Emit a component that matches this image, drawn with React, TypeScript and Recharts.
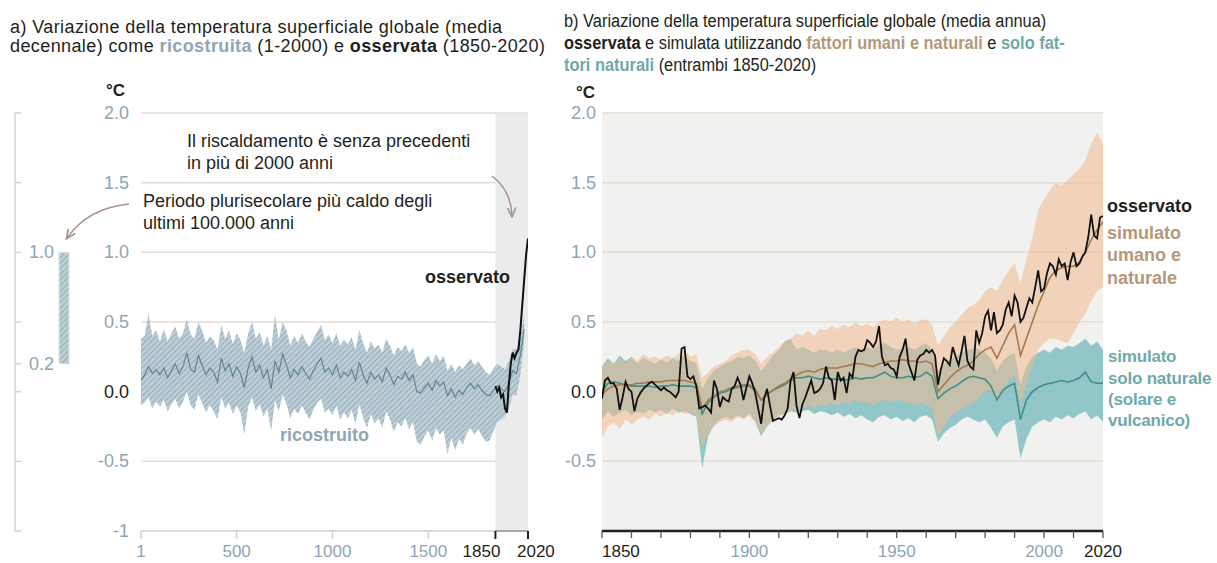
import React from 'react'
import {
  ComposedChart,
  BarChart,
  Bar,
  Area,
  Line,
  XAxis,
  YAxis,
  CartesianGrid,
  ReferenceArea,
  ReferenceLine,
} from 'recharts'

const FONT = '"Liberation Sans", Arial, Helvetica, sans-serif'
const INK = '#231f20'
const BLUEGREY = '#8ea5b5'
const TAN = '#b5987a'
const TEAL = '#6fa9a8'
const GRID = '#e4dcd8'

const Y_TICKS = [-1, -0.5, 0, 0.5, 1, 1.5, 2]

// ---- panel a: reconstruction (20-year steps, year 1 .. 2000) ----
const reconYears = Array.from({ length: 101 }, (_, i) => (i === 0 ? 1 : i * 20))
const reconMean = [
  0.08, 0.12, 0.18, 0.13, 0.16, 0.12, 0.17, 0.1, 0.15, 0.2,
  0.13, 0.18, 0.28, 0.16, 0.14, 0.26, 0.19, 0.12, 0.17, 0.14,
  0.07, 0.24, 0.15, 0.2, 0.11, 0.18, 0.13, 0.03, 0.17, 0.25,
  0.14, 0.19, 0.1, 0.16, 0.02, 0.22, 0.14, 0.27, 0.19, 0.1,
  0.16, 0.12, 0.18, 0.13, 0.09, 0.15, 0.2, 0.24, 0.14, 0.17,
  0.12, 0.19, 0.1, 0.14, 0.11, 0.16, 0.08, 0.21, 0.12, 0.06,
  0.14, 0.09, 0.12, 0.07, 0.17, 0.12, 0.05, 0.11, 0.09, 0.14,
  0.08, 0.12, 0.0, -0.01, 0.03, 0.06, 0.01, 0.08, 0.04, 0.07,
  -0.03, 0.02, -0.04, 0.01, -0.02, 0.03, 0.06, 0.02, 0.05, 0.01,
  -0.02, -0.03, 0.01, 0.04, 0.02, 0.0, 0.06, 0.15, 0.13, 0.26,
  0.45,
]
const reconHigh = [
  0.38, 0.4, 0.56, 0.4, 0.44, 0.36, 0.45, 0.36, 0.42, 0.47,
  0.38, 0.42, 0.52, 0.41, 0.38, 0.5, 0.44, 0.35, 0.4, 0.37,
  0.3, 0.48, 0.38, 0.44, 0.34, 0.42, 0.37, 0.28, 0.42, 0.5,
  0.38, 0.43, 0.33, 0.4, 0.3, 0.55, 0.37, 0.5, 0.44, 0.33,
  0.4, 0.35, 0.42, 0.36, 0.32, 0.38, 0.43, 0.48, 0.37, 0.41,
  0.35, 0.42, 0.33, 0.37, 0.34, 0.39, 0.3, 0.44, 0.35, 0.28,
  0.36, 0.31, 0.34, 0.28, 0.38, 0.33, 0.26, 0.32, 0.29, 0.34,
  0.28, 0.32, 0.2, 0.18, 0.23, 0.26, 0.2, 0.27, 0.22, 0.26,
  0.15, 0.2, 0.14, 0.19, 0.16, 0.2, 0.24, 0.19, 0.22, 0.18,
  0.14, 0.12, 0.17, 0.2, 0.18, 0.16, 0.22, 0.31, 0.3, 0.4,
  0.55,
]
const reconLow = [
  -0.1, -0.08, -0.04, -0.12, -0.07, -0.11, -0.06, -0.14, -0.09, -0.05,
  -0.12, -0.07, 0.0, -0.1, -0.13, -0.02, -0.08, -0.15, -0.1, -0.14,
  -0.2, -0.04, -0.12, -0.08, -0.16, -0.1, -0.15, -0.31, -0.11, -0.04,
  -0.14, -0.09, -0.18, -0.12, -0.28, -0.06, -0.14, -0.02, -0.09, -0.19,
  -0.12, -0.16, -0.1, -0.15, -0.2, -0.13, -0.08, -0.05, -0.15, -0.12,
  -0.17, -0.1, -0.2, -0.15, -0.19, -0.13, -0.23, -0.09, -0.19, -0.26,
  -0.16, -0.23, -0.19, -0.26, -0.14, -0.2, -0.29, -0.22, -0.25, -0.19,
  -0.27, -0.22, -0.36, -0.38, -0.32, -0.28, -0.35, -0.26, -0.31, -0.28,
  -0.45, -0.33, -0.42, -0.34, -0.38, -0.3, -0.26, -0.31, -0.27, -0.32,
  -0.36, -0.35, -0.28, -0.22, -0.2, -0.18, -0.12, -0.02, -0.03, 0.12,
  0.35,
]

// panel a: observed, decadal
const obsDecYears = [1850, 1860, 1870, 1880, 1890, 1900, 1910, 1920, 1930, 1940, 1950, 1960, 1970, 1980, 1990, 2000, 2010, 2020]
const obsDec = [0.04, 0.0, 0.03, -0.04, -0.02, -0.12, -0.15, 0.05, 0.2, 0.28, 0.24, 0.28, 0.3, 0.44, 0.62, 0.8, 0.98, 1.1]

// warmest multi-century period range (left mini axis)
const warmRange = [0.2, 1.0]

// ---- panel b: annual observed 1850..2020 ----
const obsYears = Array.from({ length: 171 }, (_, i) => 1850 + i)
const obsAnnual = [
  -0.05, 0.08, 0.1, 0.06, 0.06, 0.02, -0.13, -0.04, 0.07, 0.02,
  0.0, -0.14, -0.05, -0.01, 0.02, 0.04, 0.06, 0.07, 0.05, 0.03,
  0.01, 0.03, 0.01, 0.0, -0.02, -0.04, 0.0, 0.31, 0.32, 0.11,
  0.09, 0.11, 0.04, -0.12, -0.11, -0.1, -0.12, -0.15, 0.08, 0.02,
  -0.11, -0.04, -0.06, -0.07, 0.02, 0.04, 0.1, 0.05, -0.06, 0.03,
  0.11, 0.06, -0.01, -0.12, -0.23, -0.05, 0.02, -0.1, -0.21, -0.2,
  -0.19, -0.2, -0.17, -0.12, 0.08, 0.14, -0.1, -0.19, -0.09, -0.04,
  0.02, 0.08, -0.01, 0.0, 0.02, 0.06, 0.18, 0.1, 0.08, -0.06,
  0.14, 0.08, 0.1, -0.01, 0.13, 0.1, 0.25, 0.3, 0.29, 0.3,
  0.37, 0.35, 0.32, 0.36, 0.47, 0.25, 0.19, 0.2, 0.17, 0.16,
  0.11, 0.25, 0.3, 0.38, 0.2, 0.14, 0.08, 0.23, 0.26, 0.27,
  0.3, 0.28, 0.3, 0.26, 0.05, 0.16, 0.24, 0.22, 0.19, 0.32,
  0.25, 0.19, 0.29, 0.4, 0.22, 0.18, 0.16, 0.44, 0.35, 0.42,
  0.54, 0.58, 0.44, 0.57, 0.42, 0.44, 0.48, 0.59, 0.64, 0.54,
  0.69, 0.64, 0.5, 0.53, 0.6, 0.67, 0.64, 0.75, 0.87, 0.72,
  0.74, 0.85, 0.92, 0.9, 0.84, 0.95, 0.9, 0.92, 0.8, 0.93,
  1.0, 0.9, 0.92, 0.97, 1.0, 1.11, 1.27, 1.12, 1.1, 1.25,
  1.26,
]

// panel b: simulations, every 2 years 1850..2020
const simYears = Array.from({ length: 86 }, (_, i) => 1850 + i * 2)
const humanMean = [
  -0.02, 0.02, 0.04, 0.05, 0.05, 0.05, 0.06, 0.06, 0.07, 0.07,
  0.07, 0.08, 0.08, 0.08, 0.08, 0.07, 0.06, -0.12, -0.06, -0.03,
  0.0, 0.01, 0.03, 0.04, 0.05, 0.05, 0.02, -0.06, -0.02, 0.01,
  0.04, 0.06, 0.09, 0.12, 0.14, 0.15, 0.14, 0.16, 0.17, 0.17,
  0.17, 0.18, 0.19, 0.2, 0.2, 0.19, 0.18, 0.2, 0.21, 0.22,
  0.22, 0.23, 0.22, 0.22, 0.21, 0.22, 0.2, 0.0, 0.05, 0.1,
  0.14, 0.17, 0.19, 0.22, 0.27, 0.3, 0.32, 0.24, 0.33, 0.42,
  0.48, 0.26, 0.38, 0.5, 0.62, 0.72, 0.82, 0.87, 0.89, 0.9,
  0.9, 0.93, 1.0, 1.09, 1.16, 1.22,
]
const humanHigh = [
  0.18, 0.22, 0.2, 0.24, 0.2, 0.25, 0.22, 0.27, 0.24, 0.25,
  0.23, 0.26, 0.24, 0.27, 0.3, 0.25, 0.27, 0.1, 0.14, 0.18,
  0.2, 0.22, 0.26, 0.28, 0.3, 0.3, 0.27, 0.2, 0.25, 0.28,
  0.32, 0.36, 0.38, 0.42, 0.4, 0.44, 0.4, 0.45, 0.44, 0.47,
  0.45, 0.48, 0.46, 0.5, 0.47, 0.49, 0.46, 0.5, 0.52, 0.5,
  0.53, 0.5, 0.52, 0.49, 0.51, 0.52, 0.48, 0.33, 0.4, 0.46,
  0.5, 0.55, 0.6, 0.62, 0.66, 0.72, 0.75, 0.72, 0.8, 0.87,
  0.92, 0.78, 0.95, 1.1, 1.3, 1.38, 1.45, 1.5, 1.48, 1.52,
  1.56, 1.6, 1.66, 1.78, 1.86, 1.78,
]
const humanLow = [
  -0.33, -0.25, -0.22, -0.27, -0.2, -0.24, -0.2, -0.18, -0.2, -0.16,
  -0.18, -0.15, -0.17, -0.14, -0.16, -0.15, -0.17, -0.4, -0.3, -0.25,
  -0.22, -0.2, -0.22, -0.18, -0.2, -0.17, -0.22, -0.3, -0.24, -0.21,
  -0.18, -0.16, -0.14, -0.12, -0.13, -0.1, -0.12, -0.09, -0.1, -0.08,
  -0.1, -0.07, -0.09, -0.06, -0.08, -0.07, -0.1, -0.07, -0.06, -0.08,
  -0.06, -0.07, -0.08, -0.1, -0.08, -0.09, -0.12, -0.32, -0.25, -0.18,
  -0.15, -0.12, -0.1, -0.08, -0.04, 0.0, 0.02, -0.08, 0.02, 0.08,
  0.12, -0.1, 0.05, 0.18, 0.3, 0.35, 0.38, 0.38, 0.36, 0.35,
  0.42, 0.5, 0.56, 0.65, 0.72, 0.75,
]
const naturalMean = [
  0.0, 0.06, 0.07, 0.06, 0.05, 0.04, 0.04, 0.04, 0.04, 0.03,
  0.04, 0.04, 0.05, 0.04, 0.04, 0.04, 0.03, -0.16, -0.08, -0.04,
  -0.01, 0.0, 0.02, 0.03, 0.04, 0.04, 0.01, -0.06, -0.02, 0.01,
  0.03, 0.05, 0.08, 0.1, 0.1, 0.11, 0.1, 0.09, 0.1, 0.09,
  0.09, 0.08, 0.09, 0.1, 0.09, 0.1, 0.1, 0.12, 0.14, 0.11,
  0.1, 0.1, 0.11, 0.1, 0.11, 0.14, 0.11, -0.05, -0.01, 0.02,
  0.04, 0.07, 0.1, 0.11, 0.1, 0.09, 0.04, -0.06, 0.01, 0.04,
  0.06, -0.2, -0.06, 0.0, 0.03, 0.05, 0.06, 0.07, 0.08, 0.07,
  0.08, 0.1, 0.14, 0.07, 0.06, 0.06,
]
const naturalHigh = [
  0.18, 0.24, 0.2, 0.26, 0.22, 0.25, 0.2, 0.24, 0.22, 0.2,
  0.23, 0.21, 0.24, 0.22, 0.26, 0.22, 0.2, 0.02, 0.1, 0.15,
  0.18, 0.2, 0.22, 0.25, 0.24, 0.26, 0.22, 0.15, 0.2, 0.26,
  0.3, 0.36, 0.38, 0.3, 0.32, 0.3, 0.28, 0.3, 0.3, 0.28,
  0.3, 0.28, 0.3, 0.32, 0.3, 0.32, 0.3, 0.34, 0.35, 0.32,
  0.3, 0.31, 0.32, 0.3, 0.33, 0.35, 0.3, 0.15, 0.2, 0.23,
  0.25, 0.28, 0.3, 0.31, 0.3, 0.28, 0.24, 0.15, 0.22, 0.26,
  0.28, 0.05, 0.18, 0.25, 0.28, 0.3, 0.28, 0.32, 0.3, 0.33,
  0.32, 0.35, 0.38, 0.33, 0.36, 0.3,
]
const naturalLow = [
  -0.2, -0.14, -0.18, -0.15, -0.13, -0.17, -0.14, -0.16, -0.13, -0.15,
  -0.13, -0.16, -0.12, -0.15, -0.14, -0.16, -0.18, -0.55, -0.32, -0.24,
  -0.2, -0.18, -0.2, -0.17, -0.19, -0.16, -0.22, -0.32, -0.25, -0.2,
  -0.17, -0.16, -0.14, -0.15, -0.14, -0.13, -0.16, -0.14, -0.15, -0.17,
  -0.15, -0.18, -0.16, -0.19, -0.17, -0.2, -0.22, -0.18, -0.17, -0.2,
  -0.18, -0.21, -0.19, -0.22, -0.18, -0.17, -0.2, -0.36, -0.3, -0.26,
  -0.24, -0.2, -0.18, -0.2, -0.22, -0.2, -0.26, -0.33, -0.25, -0.22,
  -0.2, -0.48, -0.34, -0.25, -0.22, -0.2, -0.22, -0.18, -0.2, -0.17,
  -0.19, -0.16, -0.14, -0.2, -0.17, -0.22,
]

const B_X_TICKS = Array.from({ length: 18 }, (_, i) => 1850 + i * 10)
const B_X_LABELS = [1850, 1900, 1950, 2000, 2020]

const reconRows = reconYears.map((year, i) => ({
  year,
  mean: reconMean[i],
  band: [reconLow[i], reconHigh[i]],
}))
const obsDecRows = obsDecYears.map((year, i) => ({ year, value: obsDec[i] }))
const obsRows = obsYears.map((year, i) => ({ year, value: obsAnnual[i] }))
const simRows = simYears.map((year, i) => ({
  year,
  human: humanMean[i],
  humanBand: [humanLow[i], humanHigh[i]],
  natural: naturalMean[i],
  naturalBand: [naturalLow[i], naturalHigh[i]],
}))

function fmt(v: number) {
  return v === -1 ? '-1' : v.toFixed(1)
}

function ValueTick(props: any) {
  const { x, y, payload, skipMin } = props
  const v = payload.value
  if (skipMin && v === -1) return null
  return (
    <text x={x} y={y} dy={6} textAnchor="end" fontSize={18} fontFamily={FONT} fill={v === 0 ? INK : BLUEGREY}>
      {fmt(v)}
    </text>
  )
}

function MiniTick(props: any) {
  const { x, y, payload } = props
  const v = payload.value
  const label = v === 1 || v === 0.2
  return (
    <g>
      <line x1={x} x2={x + 6} y1={y} y2={y} stroke="#d9d2ce" strokeWidth={1.5} />
      {label && (
        <text x={x + 14} y={y} dy={6} fontSize={18} fontFamily={FONT} fill={BLUEGREY}>
          {v.toFixed(1)}
        </text>
      )}
    </g>
  )
}

function YearTickA(props: any) {
  const { x, y, payload } = props
  const v = payload.value
  const dark = v >= 1850
  let anchor = 'middle'
  let tx = x
  if (v === 1850) {
    anchor = 'end'
    tx = x + 5
  }
  if (v === 2020) {
    anchor = 'start'
    tx = x - 11
  }
  return (
    <g>
      <line x1={x} x2={x} y1={y} y2={y + 8} stroke={dark ? INK : '#d6cfcb'} strokeWidth={dark ? 2 : 1.5} />
      <text x={tx} y={y + 26} textAnchor={anchor} fontSize={17} fontFamily={FONT} fill={dark ? INK : BLUEGREY}>
        {v}
      </text>
    </g>
  )
}

function YearTickB(props: any) {
  const { x, y, payload } = props
  const v = payload.value
  const dark = v === 1850 || v === 2020
  return (
    <g>
      <line x1={x} x2={x} y1={y} y2={y + 7} stroke="#555" strokeWidth={1.3} />
      {B_X_LABELS.includes(v) && (
        <text x={x} y={y + 26} textAnchor={v === 1850 ? 'start' : 'middle'} fontSize={17} fontFamily={FONT} fill={dark ? INK : BLUEGREY}>
          {v}
        </text>
      )}
    </g>
  )
}

function Txt({ x, y, size = 18, color = INK, bold = false, children, style }: any) {
  return (
    <div
      style={{
        position: 'absolute',
        left: x,
        top: y - size * 0.54,
        fontSize: size,
        lineHeight: 1,
        color,
        fontWeight: bold ? 700 : 400,
        whiteSpace: 'nowrap',
        fontFamily: FONT,
        ...style,
      }}
    >
      {children}
    </div>
  )
}

export default function App() {
  return (
    <div style={{ position: 'absolute', left: 0, top: 0, width: 1217, height: 563, background: '#fff', overflow: 'hidden' }}>
      <svg width={0} height={0} style={{ position: 'absolute' }}>
        <defs>
          <pattern id="hatch" width={4} height={4} patternUnits="userSpaceOnUse" patternTransform="rotate(45)">
            <rect width={4} height={4} fill="#bccdd6" />
            <line x1={0} y1={0} x2={0} y2={4} stroke="#8ea7b5" strokeWidth={1.6} />
          </pattern>
          <marker id="arrowHead" viewBox="0 0 10 10" refX={8} refY={5} markerWidth={7} markerHeight={7} orient="auto-start-reverse">
            <path d="M0,1 L9,5 L0,9" fill="none" stroke="#a8958e" strokeWidth={1.6} />
          </marker>
        </defs>
      </svg>

      {/* mini axis with the warm-period bar */}
      <div style={{ position: 'absolute', left: 0, top: 0 }}>
        <BarChart width={120} height={563} data={[{ k: 'p', range: warmRange }]} margin={{ top: 113, right: 7, bottom: 32, left: 14 }}>
          <XAxis dataKey="k" hide />
          <YAxis
            type="number"
            domain={[-1, 2]}
            ticks={[-1, -0.5, 0, 0.2, 0.5, 1, 1.5, 2]}
            interval={0}
            width={1}
            tickSize={0}
            tickMargin={0}
            tickLine={false}
            axisLine={{ stroke: '#d9d2ce', strokeWidth: 1.5 }}
            tick={(p: any) => <MiniTick {...p} />}
          />
          <Bar dataKey="range" barSize={10} fill="url(#hatch)" stroke="#d3e3ec" isAnimationActive={false} />
        </BarChart>
      </div>

      {/* panel a */}
      <div style={{ position: 'absolute', left: 0, top: 0 }}>
        <ComposedChart width={560} height={563} margin={{ top: 113, right: 32, bottom: 2, left: 81 }}>
          <ReferenceArea x1={1850} x2={2020} y1={-1} y2={2} fill="#ebebeb" fillOpacity={1} stroke="none" ifOverflow="visible" />
          <CartesianGrid vertical={false} stroke={GRID} strokeWidth={1.5} />
          <XAxis
            dataKey="year"
            type="number"
            domain={[1, 2020]}
            ticks={[1, 500, 1000, 1500, 1850, 2020]}
            interval={0}
            height={30}
            tickSize={0}
            tickMargin={0}
            tickLine={false}
            axisLine={{ stroke: '#ddd6d2', strokeWidth: 1.5 }}
            tick={(p: any) => <YearTickA {...p} />}
            allowDataOverflow
          />
          <YAxis
            type="number"
            domain={[-1, 2]}
            ticks={Y_TICKS}
            interval={0}
            width={60}
            tickSize={0}
            tickMargin={12}
            tickLine={false}
            axisLine={false}
            tick={(p: any) => <ValueTick {...p} />}
            allowDataOverflow
          />
          <Area data={reconRows} dataKey="band" type="linear" fill="url(#hatch)" fillOpacity={1} stroke="none" isAnimationActive={false} />
          <Line data={reconRows} dataKey="mean" type="linear" stroke="#5f8595" strokeWidth={1.2} dot={false} activeDot={false} isAnimationActive={false} />
          <Line data={obsDecRows} dataKey="value" type="linear" stroke="#111" strokeWidth={2} dot={false} activeDot={false} isAnimationActive={false} />
          <ReferenceLine segment={[{ x: 1850, y: -1 }, { x: 2020, y: -1 }]} stroke={INK} strokeWidth={2} ifOverflow="visible" />
        </ComposedChart>
      </div>

      {/* panel b */}
      <div style={{ position: 'absolute', left: 560, top: 0 }}>
        <ComposedChart width={657} height={563} margin={{ top: 113, right: 114, bottom: 2, left: 2 }}>
          <CartesianGrid vertical={false} stroke={GRID} strokeWidth={1.5} fill="#f1f1ef" />
          <XAxis
            dataKey="year"
            type="number"
            domain={[1850, 2020]}
            ticks={B_X_TICKS}
            interval={0}
            height={30}
            tickSize={0}
            tickMargin={0}
            tickLine={false}
            axisLine={{ stroke: INK, strokeWidth: 2.5 }}
            tick={(p: any) => <YearTickB {...p} />}
            allowDataOverflow
          />
          <YAxis
            type="number"
            domain={[-1, 2]}
            ticks={Y_TICKS}
            interval={0}
            width={40}
            tickSize={0}
            tickMargin={6}
            tickLine={false}
            axisLine={false}
            tick={(p: any) => <ValueTick {...p} skipMin />}
            allowDataOverflow
          />
          <Area data={simRows} dataKey="naturalBand" type="linear" fill="#7cbcbe" fillOpacity={0.8} stroke="none" isAnimationActive={false} />
          <Area data={simRows} dataKey="humanBand" type="linear" fill="#f0b98f" fillOpacity={0.55} stroke="none" isAnimationActive={false} />
          <Line data={simRows} dataKey="natural" type="linear" stroke="#3d8f8a" strokeWidth={1.6} dot={false} activeDot={false} isAnimationActive={false} />
          <Line data={simRows} dataKey="human" type="linear" stroke="#a8784a" strokeWidth={1.6} dot={false} activeDot={false} isAnimationActive={false} />
          <Line data={obsRows} dataKey="value" type="linear" stroke="#111" strokeWidth={1.8} dot={false} activeDot={false} isAnimationActive={false} />
        </ComposedChart>
      </div>

      {/* annotation arrows */}
      <svg width={1217} height={563} style={{ position: 'absolute', left: 0, top: 0, pointerEvents: 'none' }}>
        <path d="M129,204 Q88,208 67,238" fill="none" stroke="#a8958e" strokeWidth={1.5} markerEnd="url(#arrowHead)" />
        <path d="M492,176 Q511,190 512,216" fill="none" stroke="#a8958e" strokeWidth={1.5} markerEnd="url(#arrowHead)" />
      </svg>

      {/* titles */}
      <Txt x={10} y={28} size={18} style={{ letterSpacing: 0.4 }}>a) Variazione della temperatura superficiale globale (media</Txt>
      <Txt x={10} y={47} size={18} style={{ letterSpacing: 0.4 }}>
        decennale) come <b style={{ color: BLUEGREY }}>ricostruita</b> (1-2000) e <b>osservata</b> (1850-2020)
      </Txt>
      <Txt x={564} y={22} size={18} style={{ transform: 'scaleX(0.91)', transformOrigin: 'left center' }}>
        b) Variazione della temperatura superficiale globale (media annua)
      </Txt>
      <Txt x={564} y={44} size={18} style={{ transform: 'scaleX(0.91)', transformOrigin: 'left center' }}>
        <b>osservata</b> e simulata utilizzando <b style={{ color: TAN }}>fattori umani e naturali</b> e <b style={{ color: TEAL }}>solo fat-</b>
      </Txt>
      <Txt x={564} y={66} size={18} style={{ transform: 'scaleX(0.91)', transformOrigin: 'left center' }}>
        <b style={{ color: TEAL }}>tori naturali</b> (entrambi 1850-2020)
      </Txt>

      {/* units */}
      <Txt x={106} y={91} size={17} bold>°C</Txt>
      <Txt x={576} y={93} size={17} bold>°C</Txt>

      {/* panel a annotations */}
      <Txt x={187} y={142} size={18}>Il riscaldamento è senza precedenti</Txt>
      <Txt x={187} y={164} size={18}>in più di 2000 anni</Txt>
      <Txt x={143} y={202} size={18}>Periodo plurisecolare più caldo degli</Txt>
      <Txt x={143} y={224} size={18}>ultimi 100.000 anni</Txt>
      <Txt x={425} y={278} size={18} bold>osservato</Txt>
      <Txt x={280} y={436} size={18} bold color={BLUEGREY}>ricostruito</Txt>

      {/* panel b labels */}
      <Txt x={1107} y={207} size={18} bold>osservato</Txt>
      <Txt x={1107} y={234} size={18} bold color={TAN}>simulato</Txt>
      <Txt x={1107} y={256} size={18} bold color={TAN}>umano e</Txt>
      <Txt x={1107} y={279} size={18} bold color={TAN}>naturale</Txt>
      <Txt x={1108} y={357} size={17} bold color={TEAL} style={{ letterSpacing: -0.2 }}>simulato</Txt>
      <Txt x={1108} y={379} size={17} bold color={TEAL} style={{ letterSpacing: -0.2 }}>solo naturale</Txt>
      <Txt x={1108} y={400} size={17} bold color={TEAL} style={{ letterSpacing: -0.2 }}>(solare e</Txt>
      <Txt x={1108} y={421} size={17} bold color={TEAL} style={{ letterSpacing: -0.2 }}>vulcanico)</Txt>
    </div>
  )
}
